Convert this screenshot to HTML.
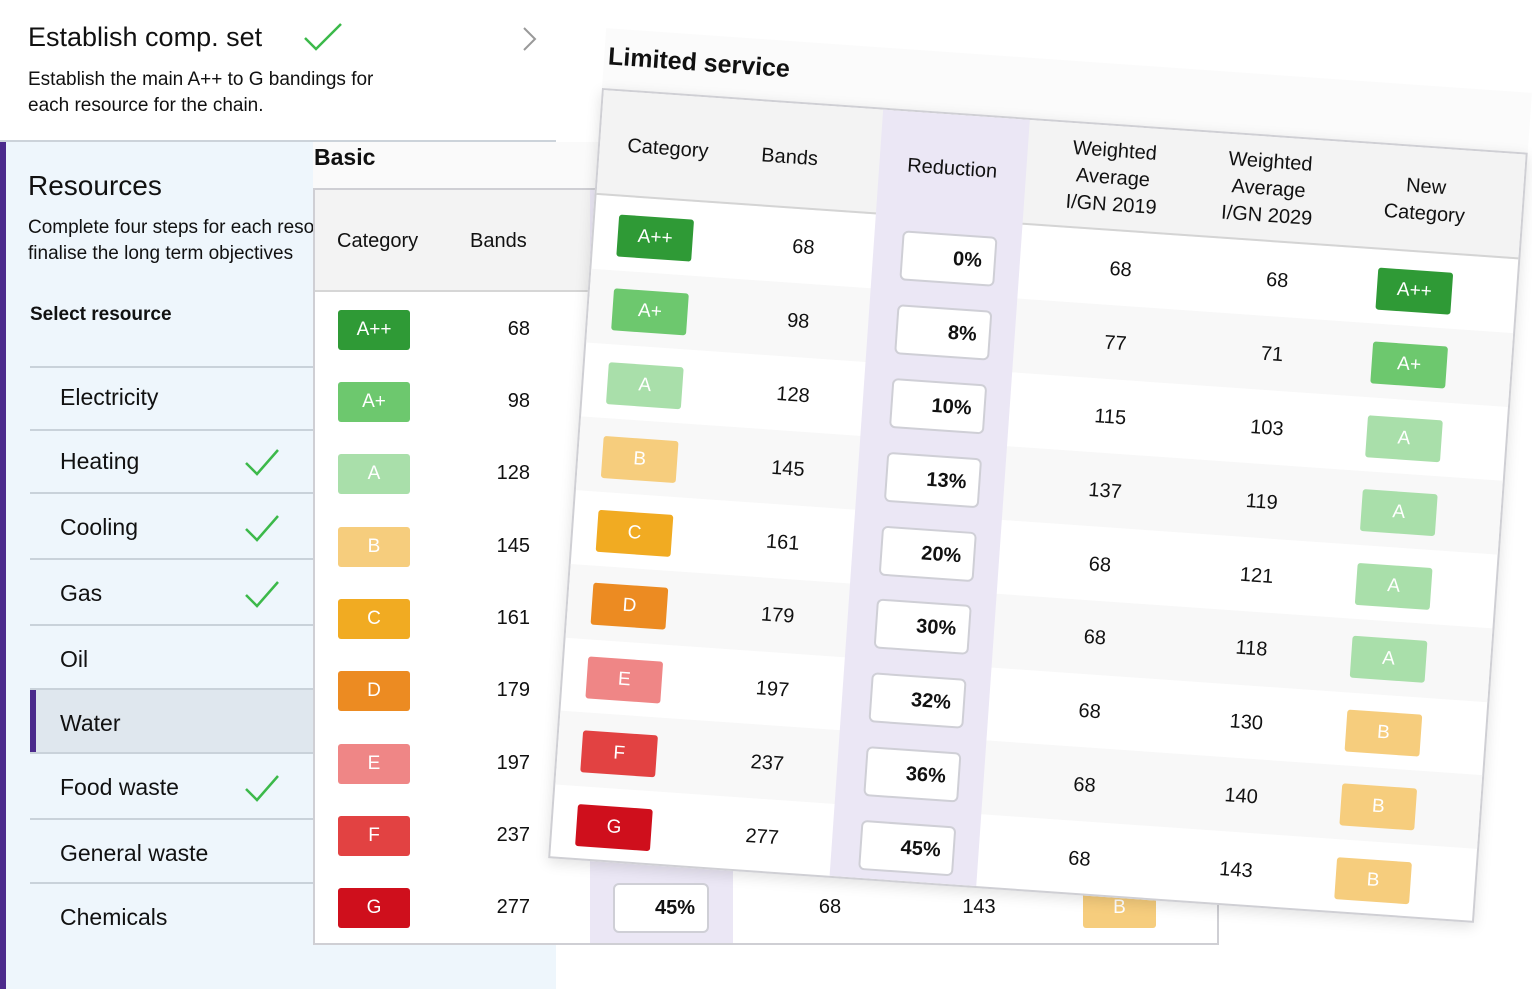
<!DOCTYPE html>
<html><head><meta charset="utf-8"><style>
*{margin:0;padding:0;box-sizing:border-box}
body{width:1532px;height:989px;overflow:hidden;background:#fff;font-family:"Liberation Sans",sans-serif;color:#111;position:relative}
.a{position:absolute}
.badge{position:absolute;color:#fff;font-size:19px;display:flex;align-items:center;justify-content:center;border-radius:3px}
.c1{background:#2f9a36}.c2{background:#6dc86e}.c3{background:#a9dfaa}.c4{background:#f6cd7d}.c5{background:#f1ab22}.c6{background:#ec8b22}.c7{background:#ef8686}.c8{background:#e24242}.c9{background:#cf0f1c}
.nav{position:absolute;left:60px;font-size:23px;color:#111}
.sep{position:absolute;left:30px;width:283px;height:2px;background:#c9d2da}
.chk{position:absolute;left:244px;width:36px;height:30px}
.num{position:absolute;font-size:20px;text-align:center;width:100px}
.box{position:absolute;background:#fff;border:2px solid #cfcfd6;border-radius:6px;font-weight:bold;font-size:20px;text-align:right;padding-right:12px;display:flex;align-items:center;justify-content:flex-end}
.hd{position:absolute;font-size:20px;text-align:center;line-height:27px}
</style></head><body>
<!-- top card -->
<div class="a" style="left:28px;top:22px;font-size:27px">Establish comp. set</div>
<svg class="a" style="left:303px;top:22px" width="40" height="30"><polyline points="2,16 13,27 38,2" fill="none" stroke="#3cb94a" stroke-width="2.5"/></svg>
<svg class="a" style="left:522px;top:26px" width="16" height="26"><polyline points="2,2 13,13 2,24" fill="none" stroke="#999" stroke-width="2"/></svg>
<div class="a" style="left:28px;top:67px;font-size:19px;line-height:26px">Establish the main A++ to G bandings for<br>each resource for the chain.</div>
<div class="a" style="left:0;top:140px;width:556px;height:2px;background:#ccd3da"></div>
<!-- left panel -->
<div class="a" style="left:0;top:142px;width:556px;height:847px;background:#eef6fc"></div>
<div class="a" style="left:0;top:142px;width:6px;height:847px;background:#4b2a8c"></div>
<div class="a" style="left:28px;top:170px;font-size:28px">Resources</div>
<div class="a" style="left:28px;top:215px;font-size:19px;line-height:26px;white-space:nowrap">Complete four steps for each resource to<br>finalise the long term objectives</div>
<div class="a" style="left:30px;top:304px;font-size:19px;font-weight:bold">Select resource</div>
<div class="a" style="left:30px;top:690px;width:283px;height:63px;background:#dfe7ee"></div>
<div class="a" style="left:30px;top:690px;width:6px;height:63px;background:#4b2a8c"></div>
<div class="sep" style="top:366px"></div><div class="sep" style="top:429px"></div><div class="sep" style="top:492px"></div><div class="sep" style="top:558px"></div><div class="sep" style="top:624px"></div><div class="sep" style="top:688px"></div><div class="sep" style="top:752px"></div><div class="sep" style="top:818px"></div><div class="sep" style="top:882px"></div>
<div class="nav" style="top:384px">Electricity</div>
<div class="nav" style="top:448px">Heating</div>
<div class="nav" style="top:514px">Cooling</div>
<div class="nav" style="top:580px">Gas</div>
<div class="nav" style="top:646px">Oil</div>
<div class="nav" style="top:710px">Water</div>
<div class="nav" style="top:774px">Food waste</div>
<div class="nav" style="top:840px">General waste</div>
<div class="nav" style="top:904px">Chemicals</div>
<svg class="chk" style="top:447px" viewBox="0 0 36 30"><polyline points="2,16 13,27 34,3" fill="none" stroke="#3cb94a" stroke-width="2.5"/></svg>
<svg class="chk" style="top:513px" viewBox="0 0 36 30"><polyline points="2,16 13,27 34,3" fill="none" stroke="#3cb94a" stroke-width="2.5"/></svg>
<svg class="chk" style="top:579px" viewBox="0 0 36 30"><polyline points="2,16 13,27 34,3" fill="none" stroke="#3cb94a" stroke-width="2.5"/></svg>
<svg class="chk" style="top:773px" viewBox="0 0 36 30"><polyline points="2,16 13,27 34,3" fill="none" stroke="#3cb94a" stroke-width="2.5"/></svg>

<!-- Basic table -->
<div class="a" style="left:313px;top:142px;width:906px;height:46px;background:#fafafa"></div>
<div class="a" style="left:314px;top:144px;font-size:23px;font-weight:bold">Basic</div>
<div class="a" style="left:313px;top:188px;width:906px;height:757px;background:#fff;border:2px solid #cfcfd4"></div>
<div class="a" style="left:315px;top:190px;width:902px;height:102px;background:#f3f3f3;border-bottom:2px solid #d6d6d6"></div>
<div class="a" style="left:590px;top:190px;width:143px;height:753px;background:#ebe7f5"></div>
<div class="a" style="left:337px;top:230px;font-size:20px">Category</div>
<div class="a" style="left:470px;top:230px;font-size:20px">Bands</div>
<div class="badge c1" style="left:338px;top:310px;width:72px;height:40px">A++</div>
<div class="badge c2" style="left:338px;top:382px;width:72px;height:40px">A+</div>
<div class="badge c3" style="left:338px;top:454px;width:72px;height:40px">A</div>
<div class="badge c4" style="left:338px;top:527px;width:72px;height:40px">B</div>
<div class="badge c5" style="left:338px;top:599px;width:72px;height:40px">C</div>
<div class="badge c6" style="left:338px;top:671px;width:72px;height:40px">D</div>
<div class="badge c7" style="left:338px;top:744px;width:72px;height:40px">E</div>
<div class="badge c8" style="left:338px;top:816px;width:72px;height:40px">F</div>
<div class="badge c9" style="left:338px;top:888px;width:72px;height:40px">G</div>
<div class="num" style="left:430px;width:100px;text-align:right;top:318px">68</div>
<div class="num" style="left:430px;width:100px;text-align:right;top:390px">98</div>
<div class="num" style="left:430px;width:100px;text-align:right;top:462px">128</div>
<div class="num" style="left:430px;width:100px;text-align:right;top:535px">145</div>
<div class="num" style="left:430px;width:100px;text-align:right;top:607px">161</div>
<div class="num" style="left:430px;width:100px;text-align:right;top:679px">179</div>
<div class="num" style="left:430px;width:100px;text-align:right;top:752px">197</div>
<div class="num" style="left:430px;width:100px;text-align:right;top:824px">237</div>
<div class="num" style="left:430px;width:100px;text-align:right;top:896px">277</div>
<div class="box" style="left:613px;top:883px;width:96px;height:50px">45%</div>
<div class="num" style="left:780px;top:896px">68</div>
<div class="num" style="left:929px;top:896px">143</div>
<div class="badge c4" style="left:1083px;top:888px;width:73px;height:40px">B</div>

<!-- Rotated Limited service panel -->
<div class="a" style="left:602px;top:88px;width:928px;height:772px;transform-origin:0 0;transform:rotate(4deg)">
 <div class="a" style="left:0;top:-60px;width:928px;height:60px;background:#fbfbfb"></div>
 <div class="a" style="left:4px;top:-46px;font-size:25px;font-weight:bold">Limited service</div>
 <div class="a" style="left:0;top:0;width:928px;height:772px;background:#fff;border:2px solid #cfcfd4;box-shadow:0 4px 14px rgba(0,0,0,.12)"></div>
 <div class="a" style="left:2px;top:2px;width:924px;height:105px;background:#f3f3f3;border-bottom:2px solid #d4d4d4"></div>
 <div class="a" style="left:2px;top:181px;width:924px;height:74px;background:#f8f8f8"></div>
 <div class="a" style="left:2px;top:329px;width:924px;height:74px;background:#f8f8f8"></div>
 <div class="a" style="left:2px;top:477px;width:924px;height:74px;background:#f8f8f8"></div>
 <div class="a" style="left:2px;top:624px;width:924px;height:74px;background:#f8f8f8"></div>
 <div class="a" style="left:282px;top:2px;width:147px;height:768px;background:#ebe7f5"></div>
 <div class="hd" style="left:10px;width:120px;top:43px">Category</div>
 <div class="hd" style="left:132px;width:120px;top:43px">Bands</div>
 <div class="hd" style="left:295px;width:120px;top:43px">Reduction</div>
 <div class="hd" style="left:446px;width:140px;top:14px">Weighted<br>Average<br>I/GN 2019</div>
 <div class="hd" style="left:602px;width:140px;top:14px">Weighted<br>Average<br>I/GN 2029</div>
 <div class="hd" style="left:759px;width:140px;top:28px">New<br>Category</div>

 <div class="badge c1" style="left:26px;top:125px;width:75px;height:42px">A++</div>
 <div class="badge c2" style="left:26px;top:199px;width:75px;height:42px">A+</div>
 <div class="badge c3" style="left:26px;top:273px;width:75px;height:42px">A</div>
 <div class="badge c4" style="left:26px;top:347px;width:75px;height:42px">B</div>
 <div class="badge c5" style="left:26px;top:421px;width:75px;height:42px">C</div>
 <div class="badge c6" style="left:26px;top:494px;width:75px;height:42px">D</div>
 <div class="badge c7" style="left:26px;top:568px;width:75px;height:42px">E</div>
 <div class="badge c8" style="left:26px;top:642px;width:75px;height:42px">F</div>
 <div class="badge c9" style="left:26px;top:716px;width:75px;height:42px">G</div>

 <div class="num" style="left:162px;top:134px">68</div>
 <div class="num" style="left:162px;top:208px">98</div>
 <div class="num" style="left:162px;top:282px">128</div>
 <div class="num" style="left:162px;top:356px">145</div>
 <div class="num" style="left:162px;top:430px">161</div>
 <div class="num" style="left:162px;top:503px">179</div>
 <div class="num" style="left:162px;top:577px">197</div>
 <div class="num" style="left:162px;top:651px">237</div>
 <div class="num" style="left:162px;top:725px">277</div>

 <div class="box" style="left:310px;top:121px;width:95px;height:50px">0%</div>
 <div class="box" style="left:310px;top:195px;width:95px;height:50px">8%</div>
 <div class="box" style="left:310px;top:269px;width:95px;height:50px">10%</div>
 <div class="box" style="left:310px;top:343px;width:95px;height:50px">13%</div>
 <div class="box" style="left:310px;top:417px;width:95px;height:50px">20%</div>
 <div class="box" style="left:310px;top:490px;width:95px;height:50px">30%</div>
 <div class="box" style="left:310px;top:564px;width:95px;height:50px">32%</div>
 <div class="box" style="left:310px;top:638px;width:95px;height:50px">36%</div>
 <div class="box" style="left:310px;top:712px;width:95px;height:50px">45%</div>

 <div class="num" style="left:480px;top:134px">68</div>
 <div class="num" style="left:480px;top:208px">77</div>
 <div class="num" style="left:480px;top:282px">115</div>
 <div class="num" style="left:480px;top:356px">137</div>
 <div class="num" style="left:480px;top:430px">68</div>
 <div class="num" style="left:480px;top:503px">68</div>
 <div class="num" style="left:480px;top:577px">68</div>
 <div class="num" style="left:480px;top:651px">68</div>
 <div class="num" style="left:480px;top:725px">68</div>

 <div class="num" style="left:637px;top:134px">68</div>
 <div class="num" style="left:637px;top:208px">71</div>
 <div class="num" style="left:637px;top:282px">103</div>
 <div class="num" style="left:637px;top:356px">119</div>
 <div class="num" style="left:637px;top:430px">121</div>
 <div class="num" style="left:637px;top:503px">118</div>
 <div class="num" style="left:637px;top:577px">130</div>
 <div class="num" style="left:637px;top:651px">140</div>
 <div class="num" style="left:637px;top:725px">143</div>

 <div class="badge c1" style="left:787px;top:125px;width:75px;height:42px">A++</div>
 <div class="badge c2" style="left:787px;top:199px;width:75px;height:42px">A+</div>
 <div class="badge c3" style="left:787px;top:273px;width:75px;height:42px">A</div>
 <div class="badge c3" style="left:787px;top:347px;width:75px;height:42px">A</div>
 <div class="badge c3" style="left:787px;top:421px;width:75px;height:42px">A</div>
 <div class="badge c3" style="left:787px;top:494px;width:75px;height:42px">A</div>
 <div class="badge c4" style="left:787px;top:568px;width:75px;height:42px">B</div>
 <div class="badge c4" style="left:787px;top:642px;width:75px;height:42px">B</div>
 <div class="badge c4" style="left:787px;top:716px;width:75px;height:42px">B</div>
</div>
</body></html>
